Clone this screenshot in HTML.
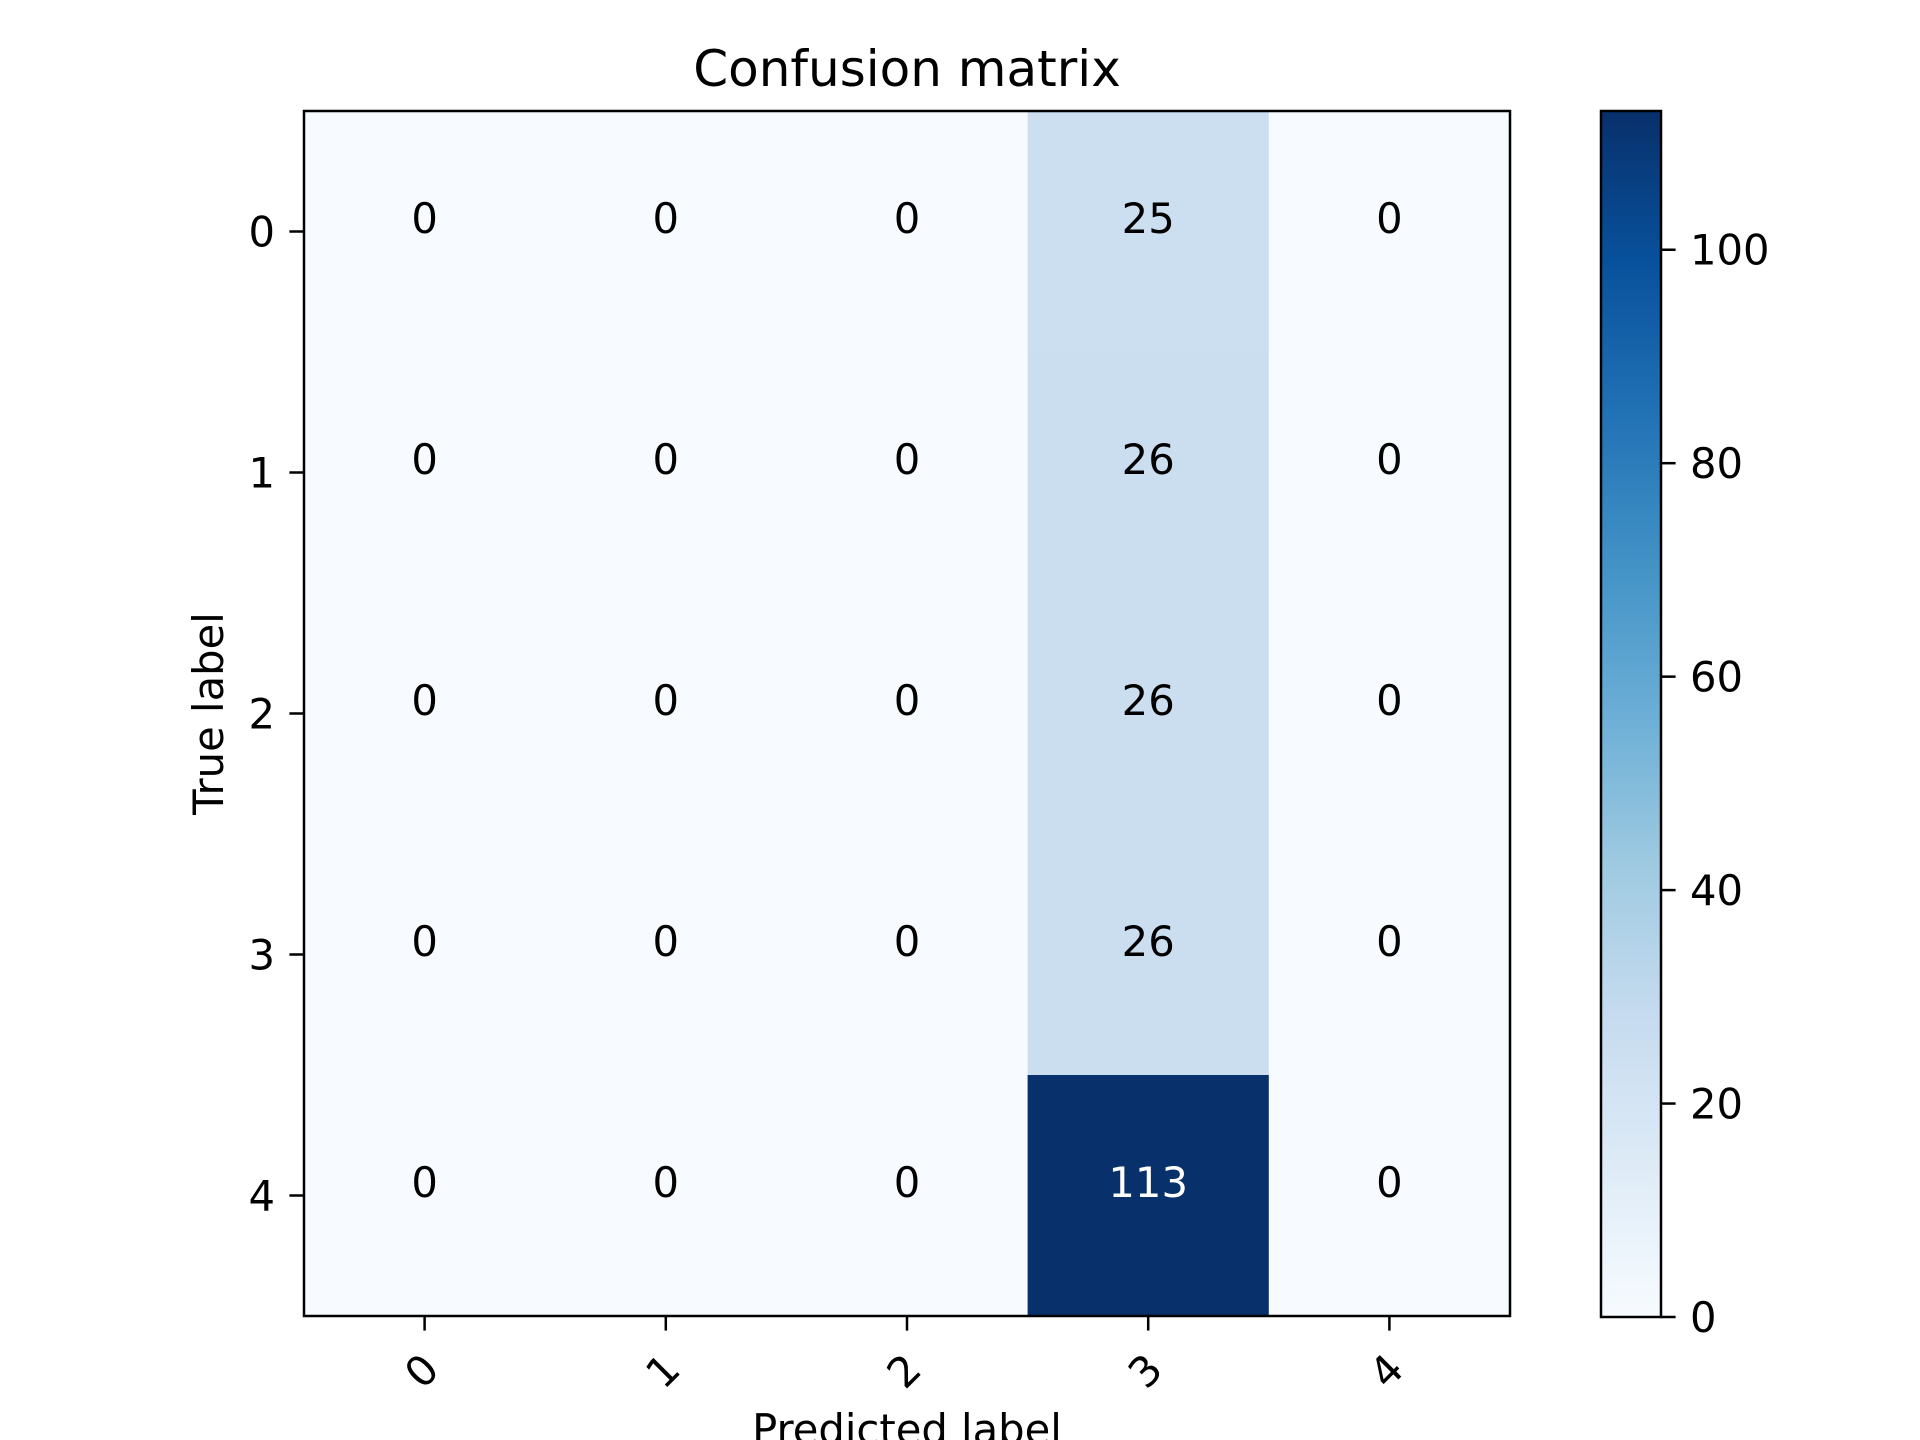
<!DOCTYPE html>
<html><head><meta charset="utf-8"><style>
html,body{margin:0;padding:0;background:#fff;width:1920px;height:1440px;overflow:hidden}
svg text{font-family:"DejaVu Sans","Liberation Sans",sans-serif}
</style></head><body>
<svg id="chart" width="1920" height="1440" viewBox="0 0 1920 1440" xmlns="http://www.w3.org/2000/svg">
<defs>
<linearGradient id="blues" x1="0" y1="1" x2="0" y2="0">
<stop offset="0" stop-color="#f7fbff"/><stop offset="0.125" stop-color="#deebf7"/><stop offset="0.25" stop-color="#c6dbef"/><stop offset="0.375" stop-color="#9ecae1"/><stop offset="0.5" stop-color="#6baed6"/><stop offset="0.625" stop-color="#4292c6"/><stop offset="0.75" stop-color="#2171b5"/><stop offset="0.875" stop-color="#08519c"/><stop offset="1" stop-color="#08306b"/>
</linearGradient>
</defs>
<g id="cells"></g>
<g id="axes"></g>
</svg>
<script>
const classLabels = ["0","1","2","3","4"];
const row0 = [0,0,0,25,0];
const row1 = [0,0,0,26,0];
const row2 = [0,0,0,26,0];
const row3 = [0,0,0,26,0];
const row4 = [0,0,0,113,0];
const colorbarTicks = [0,20,40,60,80,100];

const matrix = [row0,row1,row2,row3,row4];
const NS = "http://www.w3.org/2000/svg";
const svg = document.getElementById('chart');
const cellsG = document.getElementById('cells');
const axesG = document.getElementById('axes');
const L=304, R=1510, T=111, B=1316;
const n = classLabels.length;
const cw=(R-L)/n, ch=(B-T)/n;
const vmin=0, vmax=Math.max(...matrix.flat());
const xPos = i => L + cw*(i+0.5);
const yPos = i => T + ch*(i+0.5);
const stops=[[0,[247,251,255]],[0.125,[222,235,247]],[0.25,[198,219,239]],[0.375,[158,202,225]],[0.5,[107,174,214]],[0.625,[66,146,198]],[0.75,[33,113,181]],[0.875,[8,81,156]],[1,[8,48,107]]];
function blues(t){t=Math.max(0,Math.min(1,t));for(let k=1;k<stops.length;k++){if(t<=stops[k][0]){const a=stops[k-1],b=stops[k];const f=(t-a[0])/(b[0]-a[0]);const c=a[1].map((v,j)=>Math.round(v+(b[1][j]-v)*f));return `rgb(${c[0]},${c[1]},${c[2]})`;}}return 'rgb(8,48,107)';}
function mk(tag,attrs,parent){const e=document.createElementNS(NS,tag);for(const k in attrs)e.setAttribute(k,attrs[k]);parent.appendChild(e);return e;}
const thresh = vmax/2;
for(let r=0;r<n;r++){for(let c=0;c<n;c++){
 const v=matrix[r][c];
 const rect=mk('rect',{x:L+cw*c,y:T+ch*r,width:cw+0.5,height:ch+0.5,fill:blues((v-vmin)/(vmax-vmin))},cellsG);
 
 
 const t=mk('text',{x:xPos(c),y:yPos(r)-106+15,'text-anchor':'middle','font-size':'41.7',fill:v>thresh?'#fff':'#000'},cellsG);
 t.setAttribute('y', T+ch*r+ch*0.5-ch*0.5+ch*0.5 - 0 );
 t.setAttribute('y', yPos(r) - 120 + 120 - 0);
 t.setAttribute('dominant-baseline','central');
 t.setAttribute('y', (yPos(r)-108+108-13+13) - 13);
 t.textContent=v;
 
 
}}
const frame=mk('rect',{x:L,y:T,width:R-L,height:B-T,fill:'none',stroke:'#000','stroke-width':'2.5'},axesG);


classLabels.forEach((lab,i)=>{
 const tx=mk('line',{x1:xPos(i),y1:B,x2:xPos(i),y2:B+14.6,stroke:'#000','stroke-width':'2.5'},axesG);
 
 
 const xl=mk('text',{x:0,y:0,'text-anchor':'middle','dominant-baseline':'central','font-size':'41.7',transform:`translate(${xPos(i)-3},1371) rotate(-45)`},axesG);
 xl.textContent=lab;
 
 
 const ty=mk('line',{x1:L,y1:yPos(i),x2:L-14.6,y2:yPos(i),stroke:'#000','stroke-width':'2.5'},axesG);
 
 
 const yl=mk('text',{x:275,y:yPos(i)+15,'text-anchor':'end','font-size':'41.7'},axesG);
 yl.textContent=lab;
 
 
});
const title=mk('text',{x:(L+R)/2,y:86,'text-anchor':'middle','font-size':'50'},axesG);
title.textContent='Confusion matrix';


const yt=mk('text',{x:0,y:0,'text-anchor':'middle','font-size':'41.7',transform:`translate(223,${(T+B)/2}) rotate(-90)`},axesG);
yt.textContent='True label';


const xt=mk('text',{x:(L+R)/2,y:1444,'text-anchor':'middle','font-size':'41.7'},axesG);
xt.textContent='Predicted label';


// colorbar
const CL=1601, CR=1661, CT=111, CB=1317;
const cb=mk('rect',{x:CL,y:CT,width:CR-CL,height:CB-CT,fill:'url(#blues)',stroke:'#000','stroke-width':'2.5'},axesG);


const cy = v => CB - (v-vmin)/(vmax-vmin)*(CB-CT);
colorbarTicks.forEach(v=>{
 const l=mk('line',{x1:CR,y1:cy(v),x2:CR+14.6,y2:cy(v),stroke:'#000','stroke-width':'2.5'},axesG);
 
 
 const t=mk('text',{x:1690,y:cy(v)+15,'font-size':'41.7'},axesG);
 t.textContent=v;
 
 
});
</script>
</body></html>
